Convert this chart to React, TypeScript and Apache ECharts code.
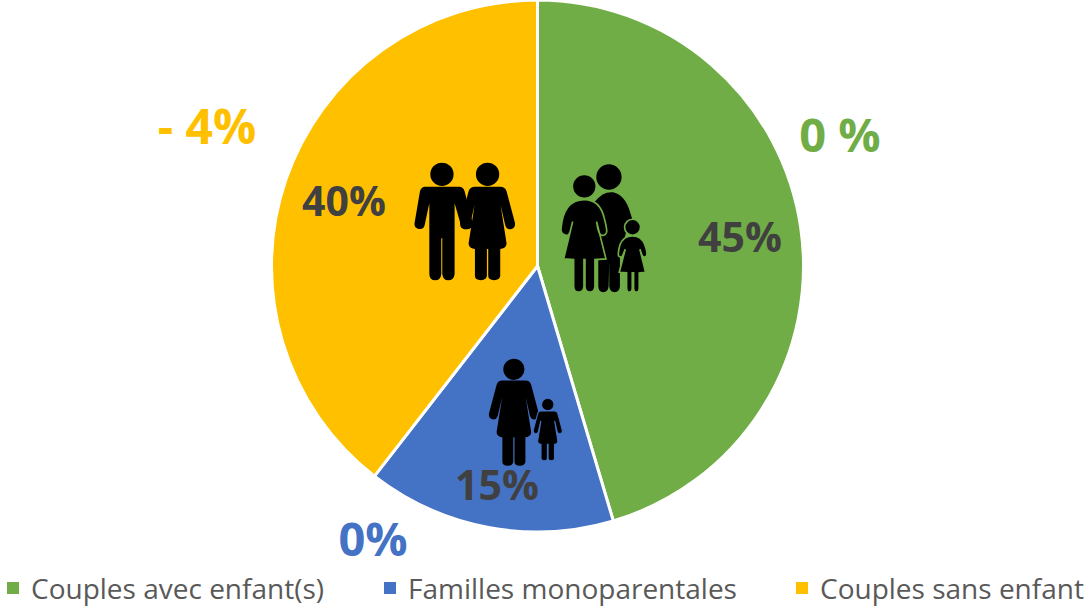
import React, { useEffect, useRef } from "react";
import * as echarts from "echarts";

const categories = ["Couples avec enfant(s)", "Familles monoparentales", "Couples sans enfant"];
const shares = [45.4, 15.1, 39.5];
const colors = ["#70AD47", "#4472C4", "#FFC000"];
const changes = ["0 %", "0%", "- 4%"];
const legendLefts = [5, 382, 794];
const font = "Open Sans";

const womanD =
  "M228 73a35 35 0 1 0 70 0a35 35 0 1 0 -70 0Z" +
  "M225 110L301 110Q316 110 320 124L345 218Q348 235 333 238Q320 240 316 226L302 165L320 280Q320 292 308 296L301 297L301 378Q299 391 283 391Q265 391 265 378L265 297L261 297L261 378Q259 391 243 391Q225 391 225 378L225 297L218 296Q206 292 206 280L224 165L210 226Q206 240 193 238Q178 235 181 218L206 124Q210 110 225 110Z";
const manD =
  "M91 73a35 35 0 1 0 70 0a35 35 0 1 0 -70 0Z" +
  "M75 110L178 110Q190 110 194 124L218 218Q220 236 203 238Q188 240 183 226L164 160L164 372Q162 391 145 391Q129 391 127 372L127 265L124 265L124 372Q122 391 106 391Q89 391 88 372L88 160L74 226Q70 240 56 237Q41 234 44 218L60 124Q64 110 75 110Z";
const fatherD =
  "M139 66a38 38 0 1 0 76 0a38 38 0 1 0 -76 0Z" +
  "M135 140Q160 108 190 112Q225 120 240 170L248 196L232 220L210 300L210 395Q208 412 194 412Q180 412 178 395L178 320L176 395Q174 412 160 412Q146 412 145 395L145 170Z";
const motherD =
  "M67 94a36 36 0 1 0 72 0a36 36 0 1 0 -72 0Z" +
  "M103 134Q150 134 163 190Q172 225 170 232Q165 245 153 240Q146 235 143 218L140 200L168 312L135 314L135 395Q133 412 120 412Q106 412 105 395L105 314L102 314L102 395Q100 412 86 412Q72 412 71 395L71 314L41 312L68 200L62 225Q58 245 45 240Q32 236 33 222Q40 134 103 134Z";
const girlD =
  "M224 217a24 24 0 1 0 48 0a24 24 0 1 0 -48 0Z" +
  "M248 243Q275 243 285 270Q294 295 290 303Q284 310 277 303L270 283L287 352L268 354L268 400Q267 412 259 412Q252 412 251 400L251 354L247 354L247 400Q246 412 238 412Q231 412 230 400L230 354L208 352L226 283L218 303Q212 310 206 303Q203 295 210 270Q220 243 248 243Z";

echarts.graphic.registerShape("woman", echarts.graphic.extendPath(womanD, {}) as any);
echarts.graphic.registerShape("man", echarts.graphic.extendPath(manD, {}) as any);
echarts.graphic.registerShape("father", echarts.graphic.extendPath(fatherD, {}) as any);
echarts.graphic.registerShape("mother", echarts.graphic.extendPath(motherD, {}) as any);
echarts.graphic.registerShape("girl", echarts.graphic.extendPath(girlD, {}) as any);

const blackFill = { fill: "#000000" };
const icons: any[] = [
  { type: "man", x: 400, y: 150, scaleX: 1 / 3, scaleY: 1 / 3, z: 10, style: blackFill },
  { type: "woman", x: 400, y: 150, scaleX: 1 / 3, scaleY: 1 / 3, z: 10, style: blackFill },
  { type: "father", x: 550, y: 155, scaleX: 1 / 3, scaleY: 1 / 3, z: 10, style: blackFill },
  { type: "mother", x: 550, y: 155, scaleX: 1 / 3, scaleY: 1 / 3, z: 11, style: { fill: "#000000", stroke: colors[0], lineWidth: 5 } },
  { type: "girl", x: 550, y: 155, scaleX: 1 / 3, scaleY: 1 / 3, z: 11, style: { fill: "#000000", stroke: colors[0], lineWidth: 5 } },
  { type: "woman", x: 434.2, y: 347.2, scaleX: 0.3033, scaleY: 0.3033, z: 10, style: blackFill },
  { type: "woman", x: 501.2, y: 391.6, scaleX: 0.177, scaleY: 0.177, z: 11, style: { fill: "#000000", stroke: colors[1], lineWidth: 6 } },
];

const labelCenters = [
  [740, 236],
  [497, 484],
  [344, 200],
];
const changeSpots = [
  { x: 840, y: 134, size: 47 },
  { x: 373, y: 538, size: 47 },
  { x: 207, y: 125, size: 48 },
];

export default function App() {
  const ref = useRef<HTMLDivElement>(null);
  useEffect(() => {
    const chart = echarts.init(ref.current!, undefined, { renderer: "svg" });
    chart.setOption({
      animation: false,
      legend: categories.map((name, i) => ({
        bottom: 11,
        left: legendLefts[i],
        padding: 0,
        itemWidth: 14,
        itemHeight: 14,
        icon: "rect",
        data: [name],
        textStyle: { fontFamily: font, fontSize: 28, color: "#595959", padding: [0, 0, 0, 6] },
      })),
      series: [
        {
          type: "pie",
          center: [537.5, 266],
          radius: [0, 266],
          startAngle: 90,
          clockwise: true,
          percentPrecision: 0,
          itemStyle: { borderColor: "#ffffff", borderWidth: 3 },
          label: {
            show: true,
            position: "inside",
            formatter: "{d}%",
            fontFamily: font,
            fontWeight: "bold",
            fontSize: 41,
            color: "#404040",
          },
          labelLine: { show: false },
          labelLayout: (p: any) => ({ x: labelCenters[p.dataIndex][0], y: labelCenters[p.dataIndex][1], align: "center", verticalAlign: "middle" }),
          data: categories.map((name, i) => ({ name, value: shares[i], itemStyle: { color: colors[i] } })),
        },
      ],
      graphic: [
        ...icons,
        ...changes.map((text, i) => ({
          type: "text",
          x: changeSpots[i].x,
          y: changeSpots[i].y,
          style: {
            text,
            fill: colors[i],
            fontFamily: font,
            fontWeight: "bold",
            fontSize: changeSpots[i].size,
            textAlign: "center",
            textVerticalAlign: "middle",
          },
        })),
      ],
    });
    return () => chart.dispose();
  }, []);
  return <div ref={ref} style={{ position: "absolute", left: 0, top: 0, width: 1087, height: 613 }} />;
}
